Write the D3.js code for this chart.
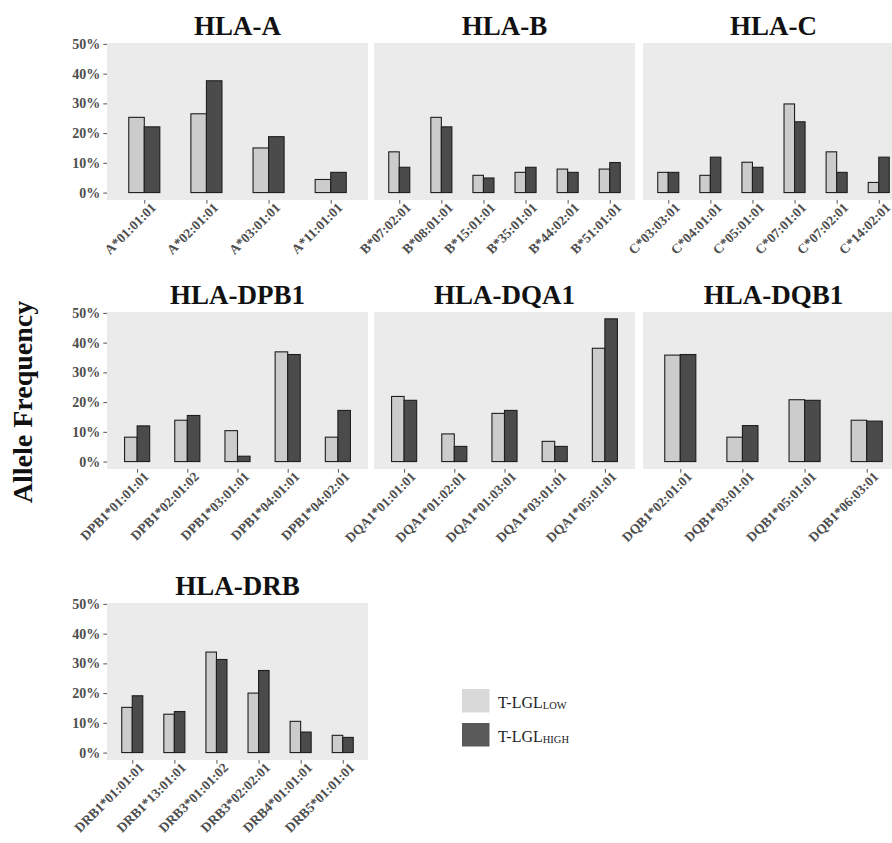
<!DOCTYPE html>
<html>
<head>
<meta charset="utf-8">
<script src="https://cdn.jsdelivr.net/npm/d3@7"></script>
<style>
  html, body { margin: 0; padding: 0; background: #fff; }
  svg { display: block; }
</style>
</head>
<body>
<svg id="chart" width="892" height="843"></svg>
<script>
// ---- data ----
const lociNames = ["HLA-A", "HLA-B", "HLA-C", "HLA-DPB1", "HLA-DQA1", "HLA-DQB1", "HLA-DRB"];

const allelesA = ["A*01:01:01", "A*02:01:01", "A*03:01:01", "A*11:01:01"];
const lowA  = [25.3, 26.5, 15.0, 4.4];
const highA = [22.1, 37.6, 18.8, 6.8];

const allelesB = ["B*07:02:01", "B*08:01:01", "B*15:01:01", "B*35:01:01", "B*44:02:01", "B*51:01:01"];
const lowB  = [13.7, 25.3, 5.8, 6.8, 7.9, 7.9];
const highB = [8.5, 22.1, 4.9, 8.5, 6.8, 10.1];

const allelesC = ["C*03:03:01", "C*04:01:01", "C*05:01:01", "C*07:01:01", "C*07:02:01", "C*14:02:01"];
const lowC  = [6.8, 5.8, 10.2, 29.8, 13.7, 3.4];
const highC = [6.8, 11.9, 8.5, 23.8, 6.8, 11.9];

const allelesDPB1 = ["DPB1*01:01:01", "DPB1*02:01:02", "DPB1*03:01:01", "DPB1*04:01:01", "DPB1*04:02:01"];
const lowDPB1  = [8.2, 13.9, 10.4, 36.9, 8.2];
const highDPB1 = [12.0, 15.5, 1.8, 36.0, 17.2];

const allelesDQA1 = ["DQA1*01:01:01", "DQA1*01:02:01", "DQA1*01:03:01", "DQA1*03:01:01", "DQA1*05:01:01"];
const lowDQA1  = [21.9, 9.3, 16.2, 6.8, 38.1];
const highDQA1 = [20.6, 5.1, 17.2, 5.1, 48.0];

const allelesDQB1 = ["DQB1*02:01:01", "DQB1*03:01:01", "DQB1*05:01:01", "DQB1*06:03:01"];
const lowDQB1  = [35.8, 8.2, 20.8, 13.9];
const highDQB1 = [36.0, 12.1, 20.6, 13.6];

const allelesDRB = ["DRB1*01:01:01", "DRB1*13:01:01", "DRB3*01:01:02", "DRB3*02:02:01", "DRB4*01:01:01", "DRB5*01:01:01"];
const lowDRB  = [15.2, 12.9, 33.8, 20.0, 10.5, 5.8];
const highDRB = [19.1, 13.8, 31.3, 27.6, 6.9, 5.1];

const groups = ["low", "high"];
const yTicks = [0, 10, 20, 30, 40, 50];
const yAxisTitle = "Allele Frequency";

// ---- layout ----
const FONT = "'Liberation Serif', 'Times New Roman', Times, serif";
const colLefts = [107, 374, 643];
const rowTops = [43, 312, 603];
const PW = 261, PH = 157;
const fillColors = { low: "#cccccc", high: "#4b4b4b" };
const legendColors = { low: "#d9d9d9", high: "#595959" };

const panels = [
  { name: lociNames[0], alleles: allelesA, low: lowA, high: highA, col: 0, row: 0 },
  { name: lociNames[1], alleles: allelesB, low: lowB, high: highB, col: 1, row: 0 },
  { name: lociNames[2], alleles: allelesC, low: lowC, high: highC, col: 2, row: 0 },
  { name: lociNames[3], alleles: allelesDPB1, low: lowDPB1, high: highDPB1, col: 0, row: 1 },
  { name: lociNames[4], alleles: allelesDQA1, low: lowDQA1, high: highDQA1, col: 1, row: 1 },
  { name: lociNames[5], alleles: allelesDQB1, low: lowDQB1, high: highDQB1, col: 2, row: 1 },
  { name: lociNames[6], alleles: allelesDRB, low: lowDRB, high: highDRB, col: 0, row: 2 }
];

const svg = d3.select("#chart");
svg.append("rect").attr("width", 892).attr("height", 843).attr("fill", "#fff");

panels.forEach(p => {
  const left = colLefts[p.col], top = rowTops[p.row];
  const g = svg.append("g").attr("transform", `translate(${left},${top})`);

  const x = d3.scalePoint().domain(p.alleles).range([0, PW]).padding(0.6);
  const step = x.step();
  const xg = d3.scaleBand().domain(groups).range([-step * 0.25, step * 0.25]).padding(0);
  const y = d3.scaleLinear().domain([-2.5, 50.3]).range([PH, 0]);

  // panel background
  g.append("rect").attr("x", 0).attr("y", 0).attr("width", PW).attr("height", PH)
    .attr("fill", "#ebebeb");

  // title
  g.append("text").attr("x", PW / 2).attr("y", -8)
    .attr("text-anchor", "middle")
    .attr("font-family", FONT).attr("font-weight", "bold").attr("font-size", 27)
    .attr("fill", "#111").text(p.name);

  // bars
  const rows = p.alleles.map((a, i) => ({ allele: a, low: p.low[i], high: p.high[i] }));
  const cat = g.selectAll("g.cat").data(rows).enter().append("g")
    .attr("class", "cat")
    .attr("transform", d => `translate(${x(d.allele)},0)`);
  cat.selectAll("rect").data(d => groups.map(k => ({ key: k, value: d[k] }))).enter()
    .append("rect")
    .attr("x", d => xg(d.key))
    .attr("width", xg.bandwidth())
    .attr("y", d => y(d.value))
    .attr("height", d => y(0) - y(d.value))
    .attr("fill", d => fillColors[d.key])
    .attr("stroke", "#1e1e1e").attr("stroke-width", 1.1);

  // x axis
  const xAxis = d3.axisBottom(x).tickSize(3.7).tickPadding(0).tickSizeOuter(0);
  const xa = g.append("g").attr("transform", `translate(0,${PH})`).call(xAxis);
  xa.select(".domain").remove();
  xa.selectAll(".tick line").attr("stroke", "#555").attr("stroke-width", 1);
  xa.selectAll(".tick text")
    .attr("font-family", FONT).attr("font-weight", "bold").attr("font-size", 13.5)
    .attr("fill", "#4d4d4d")
    .attr("text-anchor", "end")
    .attr("y", 0).attr("dy", 0)
    .attr("transform", "translate(12,8.5) rotate(-45)");

  // y axis only for first column
  if (p.col === 0) {
    const yAxis = d3.axisLeft(y).tickValues(yTicks).tickFormat(d => d + "%")
      .tickSize(3.7).tickPadding(3).tickSizeOuter(0);
    const ya = g.append("g").call(yAxis);
    ya.select(".domain").remove();
    ya.selectAll(".tick line").attr("stroke", "#555");
    ya.selectAll(".tick text")
      .attr("font-family", FONT).attr("font-weight", "bold").attr("font-size", 14)
      .attr("fill", "#4d4d4d");
  }
});

// y axis title
svg.append("text")
  .attr("transform", `translate(32,402) rotate(-90)`)
  .attr("text-anchor", "middle")
  .attr("font-family", FONT).attr("font-weight", "bold").attr("font-size", 28)
  .attr("fill", "#111").text(yAxisTitle);

// legend
const legendLabels = { low: "LOW", high: "HIGH" };
const lg = svg.append("g").attr("transform", "translate(462,689)");
groups.forEach((k, i) => {
  const row = lg.append("g").attr("transform", `translate(0,${i * 34})`);
  row.append("rect").attr("width", 27.5).attr("height", 23.5).attr("fill", legendColors[k]);
  const t = row.append("text").attr("x", 36).attr("y", 19)
    .attr("font-family", FONT).attr("font-size", 16).attr("fill", "#222");
  t.append("tspan").text("T-LGL");
  t.append("tspan").attr("font-size", 10.5).attr("dy", 1).text(legendLabels[k]);
});
</script>
</body>
</html>
